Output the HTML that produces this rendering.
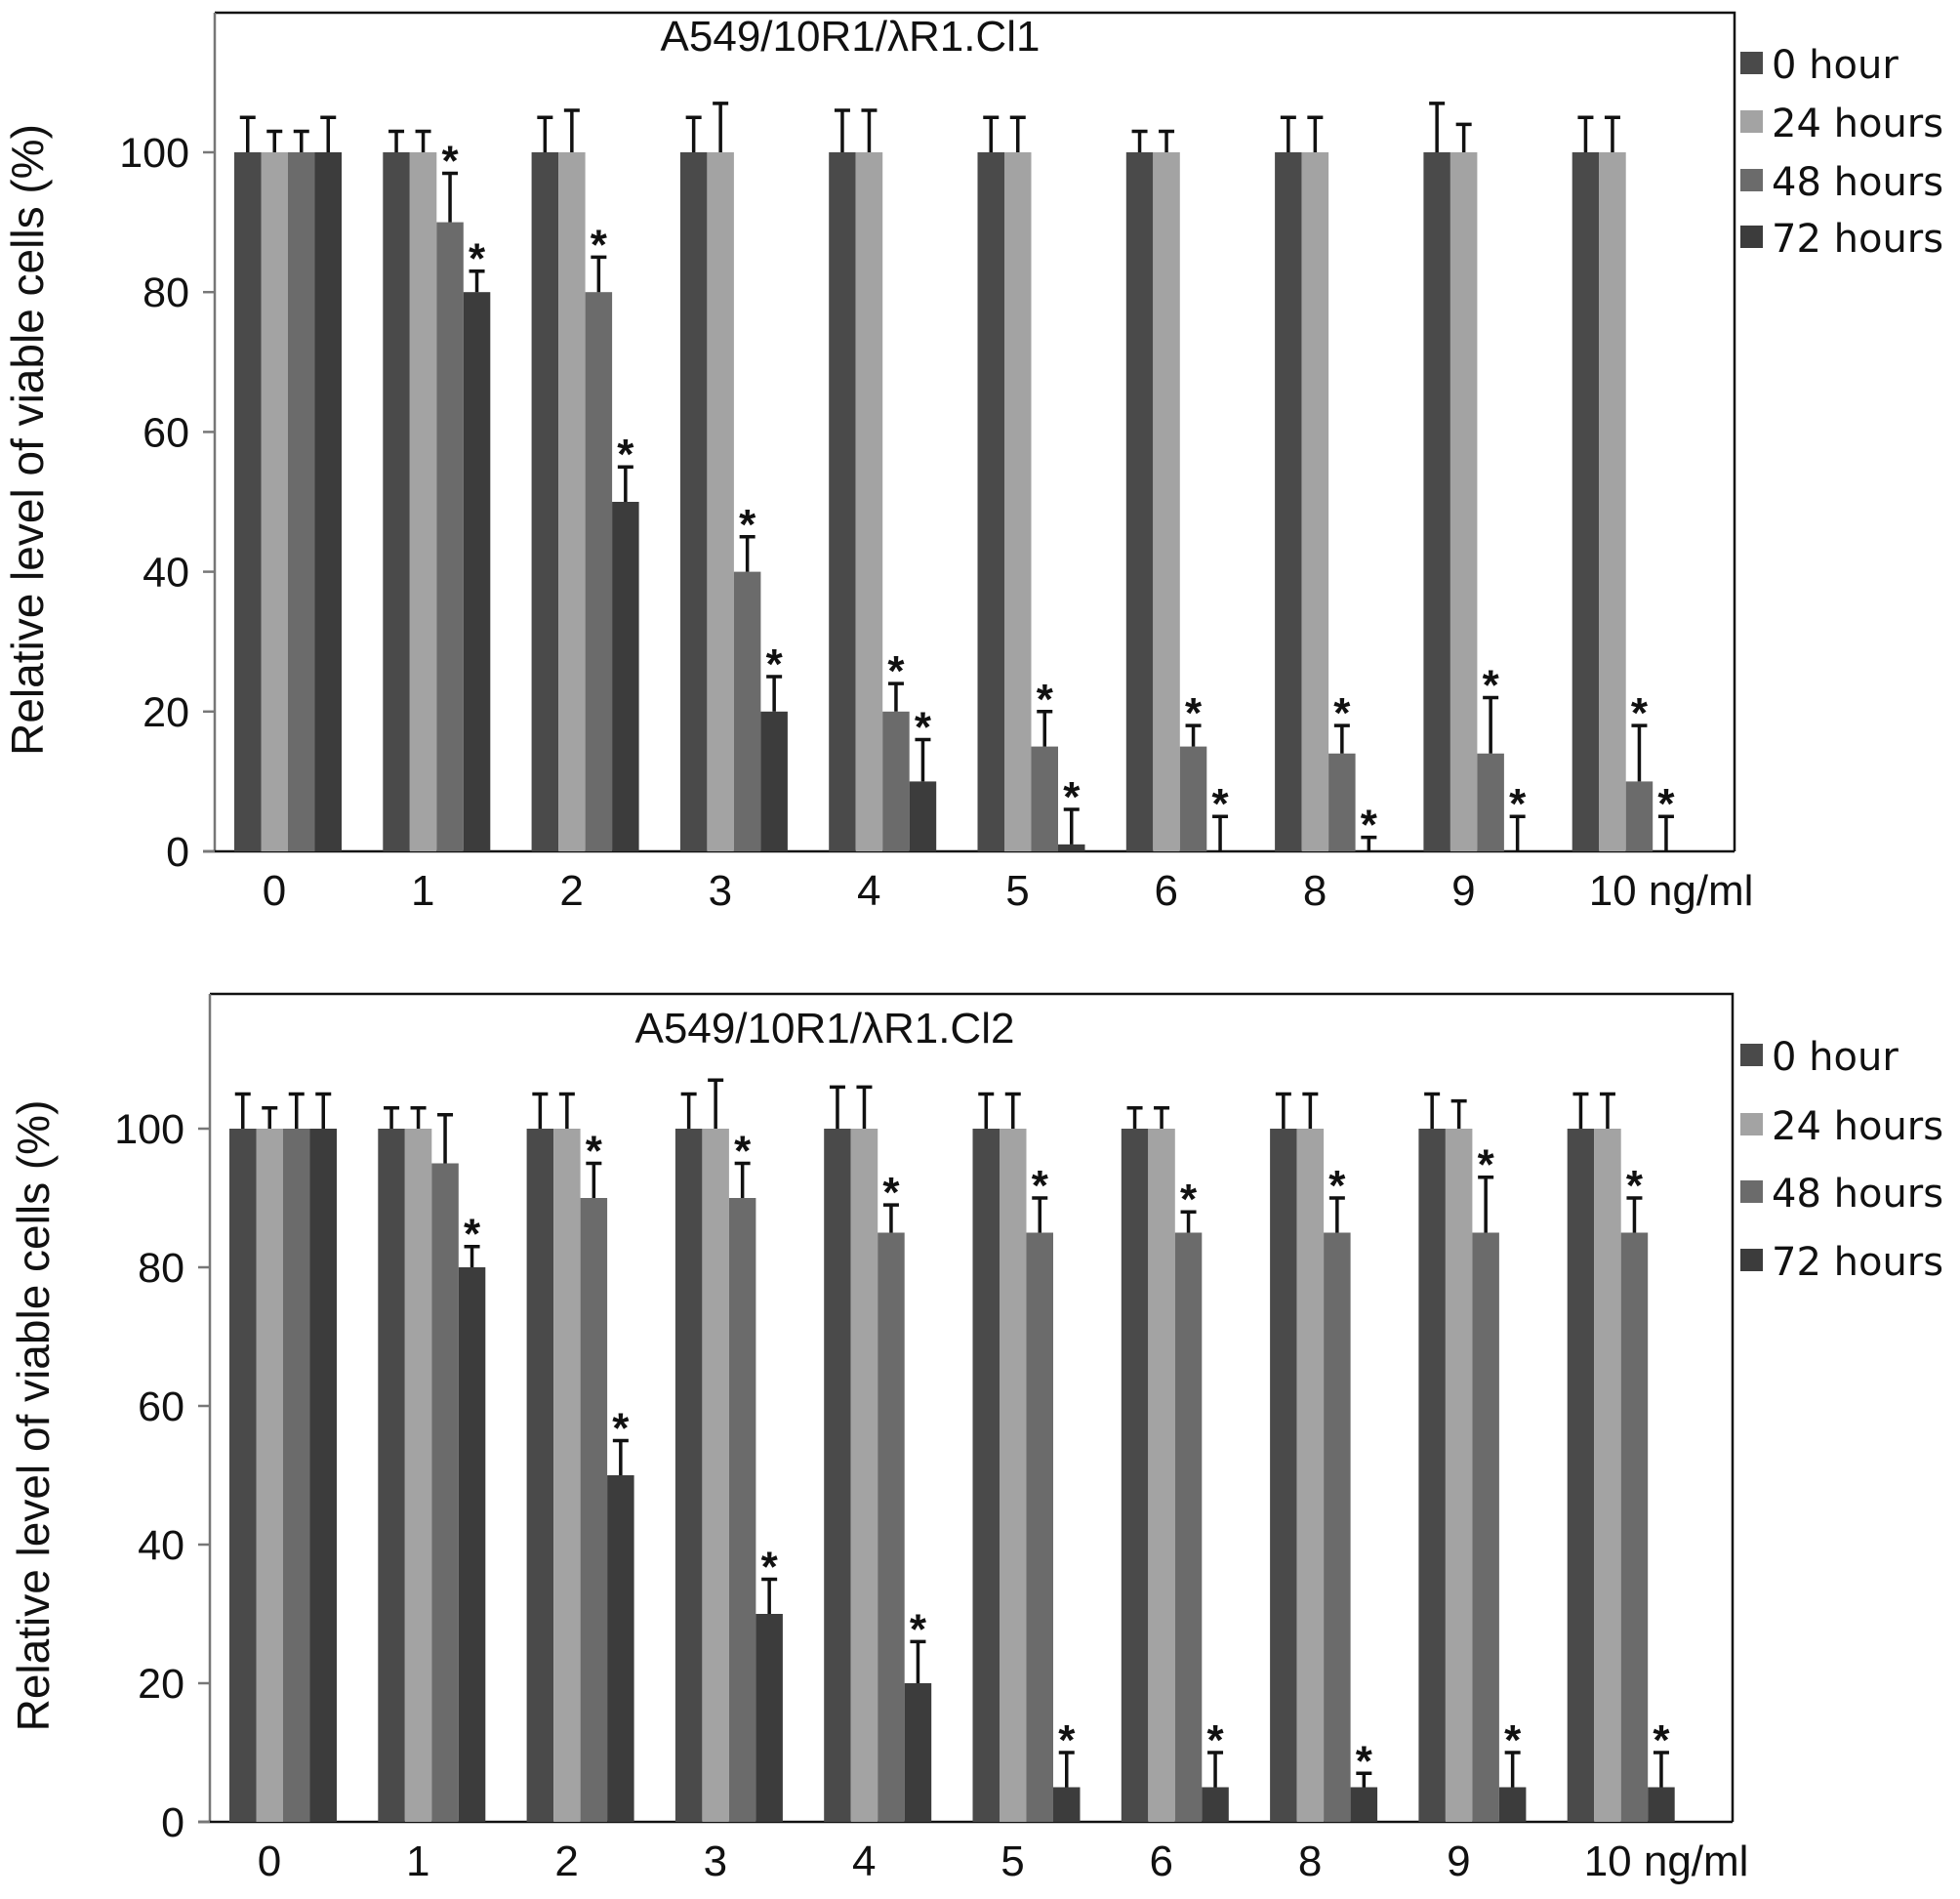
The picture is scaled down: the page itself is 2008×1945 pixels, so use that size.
<!DOCTYPE html>
<html><head><meta charset="utf-8"><style>
html,body{margin:0;padding:0;background:#fff;}
svg{display:block;}
text{font-family:"Liberation Sans",Arial,sans-serif;fill:#111;}
.leg{font-family:"DejaVu Sans","Liberation Sans",sans-serif;}
</style></head><body>
<svg id="fig" width="2008" height="1945" viewBox="0 0 2008 1945" xmlns="http://www.w3.org/2000/svg"></svg>
<script>
const categories = ["0","1","2","3","4","5","6","8","9","10 ng/ml"];
const seriesNames = ["0 hour","24 hours","48 hours","72 hours"];
const seriesColors = ["#4a4a4a","#a3a3a3","#6b6b6b","#3c3c3c"];
const yTicks = [0,20,40,60,80,100];
const top0h = [100,100,100,100,100,100,100,100,100,100];
const top24h = [100,100,100,100,100,100,100,100,100,100];
const top48h = [100,90,80,40,20,15,15,14,14,10];
const top72h = [100,80,50,20,10,1,0,0,0,0];
const topErr0h = [5,3,5,5,6,5,3,5,7,5];
const topErr24h = [3,3,6,7,6,5,3,5,4,5];
const topErr48h = [3,7,5,5,4,5,3,4,8,8];
const topErr72h = [5,3,5,5,6,5,5,2,5,5];
const topSig48h = [0,1,1,1,1,1,1,1,1,1];
const topSig72h = [0,1,1,1,1,1,1,1,1,1];
const bot0h = [100,100,100,100,100,100,100,100,100,100];
const bot24h = [100,100,100,100,100,100,100,100,100,100];
const bot48h = [100,95,90,90,85,85,85,85,85,85];
const bot72h = [100,80,50,30,20,5,5,5,5,5];
const botErr0h = [5,3,5,5,6,5,3,5,5,5];
const botErr24h = [3,3,5,7,6,5,3,5,4,5];
const botErr48h = [5,7,5,5,4,5,3,5,8,5];
const botErr72h = [5,3,5,5,6,5,5,2,5,5];
const botSig48h = [0,0,1,1,1,1,1,1,1,1];
const botSig72h = [0,1,1,1,1,1,1,1,1,1];

const NS="http://www.w3.org/2000/svg";
const svg=document.getElementById('fig');
function mk(tag,attrs,parent){const e=document.createElementNS(NS,tag);for(const k in attrs)e.setAttribute(k,attrs[k]);(parent||svg).appendChild(e);return e;}

function drawPanel(p){
  const g=mk('g',{});
  
  
  const y=v=>p.y0-(v/100)*(p.y0-p.y100);
  const groupX=i=>p.gx0+i*p.gstep;
  const bw=p.bw;
  const fr=mk('path',{d:`M${p.left},${p.top} L${p.right},${p.top} L${p.right},${p.y0}`,stroke:'#111',fill:'none','stroke-width':2.5},g);
  
  
  const ya=mk('line',{x1:p.left,y1:p.top,x2:p.left,y2:p.y0,stroke:'#777','stroke-width':2.5},g);
  
  
  const xa=mk('line',{x1:p.left-12,y1:p.y0,x2:p.right,y2:p.y0,stroke:'#111','stroke-width':2.5},g);
  
  
  yTicks.forEach(t=>{
    const tk=mk('line',{x1:p.left-12,y1:y(t),x2:p.left,y2:y(t),stroke:'#777','stroke-width':2.5},g);
    
    
    const tl=mk('text',{x:p.left-26,y:y(t)+15,'text-anchor':'end','font-size':43},g);
    tl.textContent=t;
    
    
  });
  const yt=mk('text',{x:0,y:0,'text-anchor':'middle','font-size':46,transform:`translate(${p.ytx},${(p.top+p.y0)/2+8}) rotate(-90)`},g);
  yt.textContent='Relative level of viable cells (%)';
  
  
  const ti=mk('text',{x:p.titleX,y:p.titleY,'text-anchor':'middle','font-size':44},g);
  ti.textContent=p.title;
  
  
  categories.forEach((c,i)=>{
    const cx=groupX(i)+2*bw-14;
    const isLast=i===categories.length-1;
    const cl=mk('text',{x:isLast?cx-24:cx,y:p.y0+55,'text-anchor':isLast?'start':'middle','font-size':44},g);
    cl.textContent=c;
    
    
  });
  const vals=[p.s0,p.s1,p.s2,p.s3], errs=[p.e0,p.e1,p.e2,p.e3], sigs=[null,null,p.g2,p.g3];
  vals.forEach((arr,s)=>{
    arr.forEach((v,i)=>{
      const x=groupX(i)+s*bw;
      const r=mk('rect',{x:x,y:y(v),width:bw,height:Math.max(0,p.y0-y(v)),fill:seriesColors[s]},g);
      
      
      const cx=x+bw/2, yt2=y(v+errs[s][i]);
      const eb=mk('path',{d:`M${cx},${y(v)} L${cx},${yt2} M${cx-8},${yt2} L${cx+8},${yt2}`,stroke:'#111','stroke-width':3.5,fill:'none'},g);
      
      
      if(sigs[s]&&sigs[s][i]){
        const a=mk('text',{x:cx,y:yt2+2,'text-anchor':'middle','font-size':44,'font-weight':'bold'},g);
        a.textContent='*';
        
        
      }
    });
  });
  seriesNames.forEach((n,s)=>{
    const ly=p.legY[s];
    const sq=mk('rect',{x:1783,y:ly-27,width:23,height:23,fill:seriesColors[s]},g);
    
    
    const lt=mk('text',{x:1815,y:ly,'font-size':40,class:'leg'},g);
    lt.textContent=n;
    
    
  });
}
drawPanel({name:'top-chart',left:220,right:1777,top:13,y0:872,y100:156,gx0:240,gstep:152.3,bw:27.5,ytx:44,
  title:'A549/10R1/\u03bbR1.Cl1',titleX:871,titleY:52,legY:[80,140,200,258],
  s0:top0h,s1:top24h,s2:top48h,s3:top72h,e0:topErr0h,e1:topErr24h,e2:topErr48h,e3:topErr72h,g2:topSig48h,g3:topSig72h});
drawPanel({name:'bottom-chart',left:215,right:1775,top:1018,y0:1866,y100:1156,gx0:235,gstep:152.3,bw:27.5,ytx:50,
  title:'A549/10R1/\u03bbR1.Cl2',titleX:845,titleY:1068,legY:[1096,1167,1236,1306],
  s0:bot0h,s1:bot24h,s2:bot48h,s3:bot72h,e0:botErr0h,e1:botErr24h,e2:botErr48h,e3:botErr72h,g2:botSig48h,g3:botSig72h});
</script>
</body></html>
